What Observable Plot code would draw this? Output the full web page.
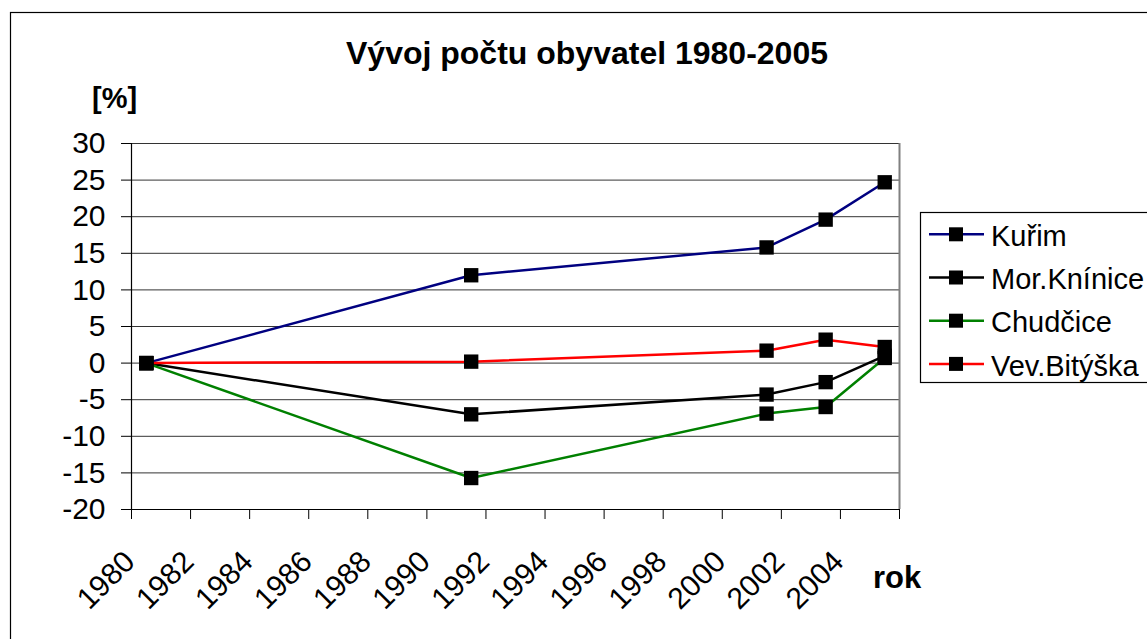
<!DOCTYPE html>
<html>
<head>
<meta charset="utf-8">
<script src="https://cdn.jsdelivr.net/npm/d3@7"></script>
<script src="https://cdn.jsdelivr.net/npm/@observablehq/plot@0.6"></script>
<style>
  html, body { margin: 0; padding: 0; background: white; }
  #chart svg { display: block; }
</style>
</head>
<body>
<div id="chart"></div>
<script>
// ---- data ----
const years = [1980, 1991, 2001, 2003, 2005];
const seriesNames = ["Kuřim", "Mor.Knínice", "Chudčice", "Vev.Bitýška"];
const seriesColors = ["#000080", "#000000", "#008000", "#FF0000"];
const kurim      = [0, 12.0, 15.8, 19.6, 24.7];
const morKninice = [0, -7.0, -4.3, -2.6, 1.0];
const chudcice   = [0, -15.7, -6.9, -6.0, 0.7];
const vevBityska = [0, 0.2, 1.7, 3.2, 2.2];
const seriesValues = [kurim, morKninice, chudcice, vevBityska];

const yTicks = [-20, -15, -10, -5, 0, 5, 10, 15, 20, 25, 30];
const xTickPositions = [1979.5, 1981.5, 1983.5, 1985.5, 1987.5, 1989.5, 1991.5, 1993.5, 1995.5, 1997.5, 1999.5, 2001.5, 2003.5, 2005.5];
const xTickLabels = ["1980", "1982", "1984", "1986", "1988", "1990", "1992", "1994", "1996", "1998", "2000", "2002", "2004"];

const titleText = "Vývoj počtu obyvatel 1980-2005";
const yTitle = "[%]";
const xTitle = "rok";

// long table built from the arrays
const table = [];
seriesNames.forEach((s, si) => {
  years.forEach((yr, i) => table.push({series: s, year: yr, value: seriesValues[si][i]}));
});

const FONT = "'Liberation Sans', Arial, sans-serif";

const svg = Plot.plot({
  width: 1147,
  height: 639,
  marginLeft: 131,
  marginRight: 248,
  marginTop: 143,
  marginBottom: 130,
  style: {fontFamily: FONT, fontSize: "30px", background: "white", color: "black", overflow: "visible"},
  x: {domain: [1979.5, 2005.5]},
  y: {domain: [-20, 30]},
  color: {domain: seriesNames, range: seriesColors},
  marks: [
    Plot.gridY(yTicks, {stroke: "#000", strokeOpacity: 0.8, strokeWidth: 1}),
    Plot.axisY({ticks: yTicks, tickSize: 10, tickPadding: 16, fontSize: 30, label: null, tickFormat: d => String(d), stroke: "#000"}),
    Plot.axisX({ticks: xTickPositions, tickSize: 10, tickFormat: () => "", label: null, stroke: "#000"}),
    Plot.text(xTickLabels, {
      x: (d, i) => xTickPositions[i], text: d => d, frameAnchor: "bottom",
      rotate: -45, textAnchor: "end", lineAnchor: "bottom", dx: 5, dy: 54, fontSize: 30, fill: "#000"
    }),
    Plot.ruleY([-20], {stroke: "#000", strokeWidth: 1.2}),
    Plot.ruleX([1979.5], {stroke: "#000", strokeWidth: 1.2}),
    Plot.ruleX([2005.5], {y1: -20, y2: 30, stroke: "#808080", strokeWidth: 2}),
    Plot.line(table, {x: "year", y: "value", z: "series", stroke: "series", strokeWidth: 2.5}),
    Plot.dot(table, {x: "year", y: "value", symbol: "square", r: 8.1, fill: "#000", stroke: "none"})
  ]
});

document.getElementById("chart").appendChild(svg);

const s = d3.select(svg);
// outer chart border (right and bottom edges are outside the view)
s.append("rect").attr("x", 10.5).attr("y", 12.5).attr("width", 2000).attr("height", 2000)
  .attr("fill", "none").attr("stroke", "#000").attr("stroke-width", 1.2);

s.append("text").attr("x", 587).attr("y", 64).attr("text-anchor", "middle")
  .attr("font-family", FONT).attr("font-weight", "bold").attr("font-size", 32).attr("fill", "#000").text(titleText);
s.append("text").attr("x", 92).attr("y", 108).attr("text-anchor", "start")
  .attr("font-family", FONT).attr("font-weight", "bold").attr("font-size", 29).attr("fill", "#000").text(yTitle);
s.append("text").attr("x", 873).attr("y", 588).attr("text-anchor", "start")
  .attr("font-family", FONT).attr("font-weight", "bold").attr("font-size", 31).attr("fill", "#000").text(xTitle);

// legend
const lg = s.append("g");
lg.append("rect").attr("x", 920.5).attr("y", 212.5).attr("width", 400).attr("height", 170)
  .attr("fill", "white").attr("stroke", "#000").attr("stroke-width", 1.2);
seriesNames.forEach((name, i) => {
  const y = 234.3 + 43.2 * i;
  lg.append("line").attr("x1", 929).attr("x2", 984).attr("y1", y).attr("y2", y)
    .attr("stroke", seriesColors[i]).attr("stroke-width", 2.5);
  lg.append("rect").attr("x", 956 - 7).attr("y", y - 7).attr("width", 14).attr("height", 14).attr("fill", "#000");
  lg.append("text").attr("x", 991).attr("y", y + 11.7).attr("text-anchor", "start")
    .attr("font-family", FONT).attr("font-size", 29).attr("fill", "#000").text(name);
});
</script>
</body>
</html>
